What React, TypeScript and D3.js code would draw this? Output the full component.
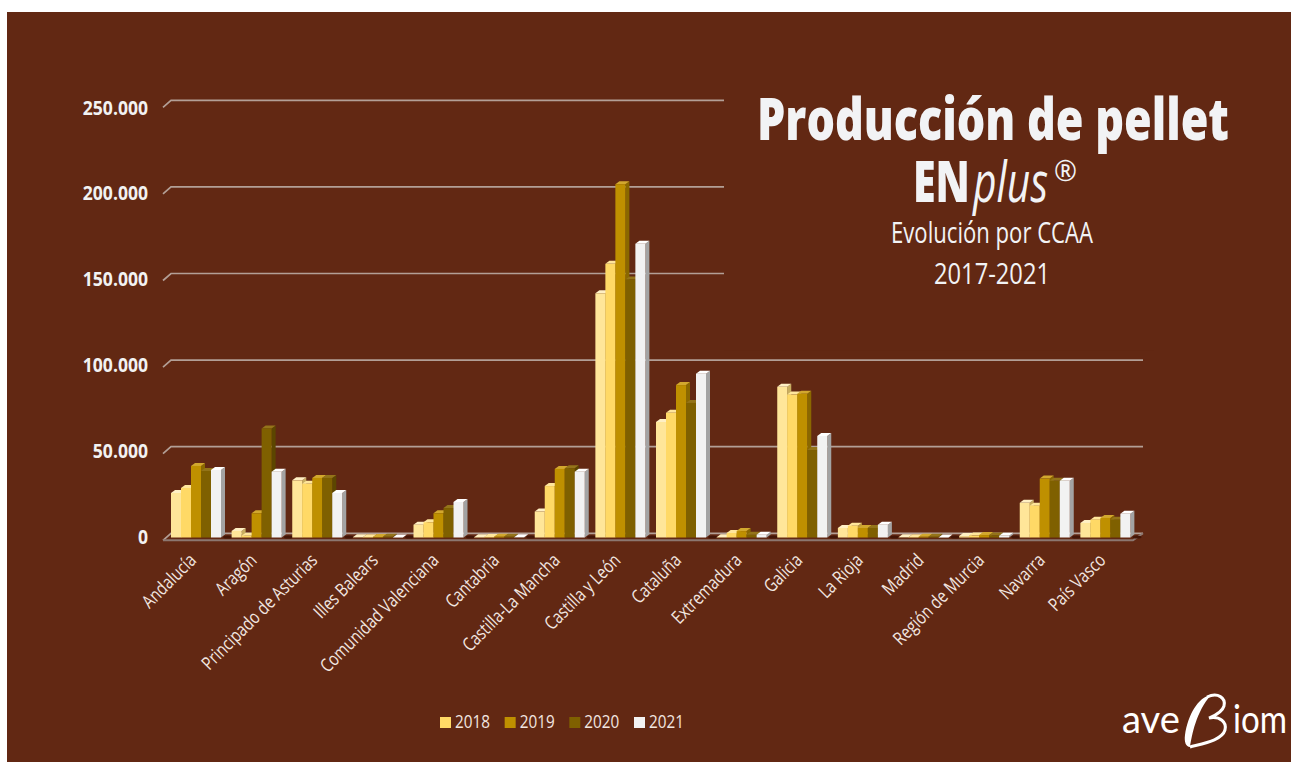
import React, { useLayoutEffect, useRef } from "react";
import * as d3 from "d3";

const categories = ["Andalucía","Aragón","Principado de Asturias","Illes Balears","Comunidad Valenciana","Cantabria","Castilla-La Mancha","Castilla y León","Cataluña","Extremadura","Galicia","La Rioja","Madrid","Región de Murcia","Navarra","País Vasco"];
const years = ["2017","2018","2019","2020","2021"];
const legendYears = ["2018","2019","2020","2021"];
const values2017 = [25700,3800,33000,100,7400,200,15000,141000,66700,200,87000,5500,100,800,20000,8400];
const values2018 = [28600,1000,31000,200,8800,300,29700,158000,72000,2600,82500,6800,200,1100,18400,10300];
const values2019 = [41300,14000,34400,300,14000,500,39600,204000,88000,3700,83000,5500,400,1400,34000,11300];
const values2020 = [38400,63000,34400,400,17000,500,40000,149000,77700,1600,50500,5500,500,1100,32700,10300];
const values2021 = [39000,38000,25700,50,20500,100,38000,169600,94600,1600,58600,7400,50,1000,32700,13700];
const seriesValues = [values2017,values2018,values2019,values2020,values2021];
const yTicks = [0,50000,100000,150000,200000,250000];
const fronts = ["#ffe699","#ffd966","#bf9000","#7f6000","#f2f2f2"];
const sides = ["#c9ae60","#bd9b3c","#8a6800","#5c4600","#a3a3a3"];
const tops = ["#fff0c4","#ffe69c","#d2a82e","#94741a","#ffffff"];

const W = 1291, H = 762;
const sans = "'Open Sans', 'Noto Sans', sans-serif";
const depthX = 4, depthY = 3;
const floorDX = 4, backDY = 4.2, frontDY = 2.8;

type FitProps = { x: number; y: number; width: number; center?: boolean; children: React.ReactNode } & Record<string, unknown>;

function FitText({ x, y, width, center, children, ...rest }: FitProps) {
  const ref = useRef<SVGTextElement>(null);
  useLayoutEffect(() => {
    const n = ref.current;
    if (!n) return;
    const w = n.getComputedTextLength();
    n.setAttribute("transform", `translate(${x},${y}) scale(${width / w},1)`);
  }, [x, y, width]);
  return (
    <text ref={ref} textAnchor={center ? "middle" : "start"} transform={`translate(${x},${y})`} {...rest}>
      {children}
    </text>
  );
}

export default function App() {
  const y = d3.scaleLinear().domain([0, 250000]).range([537.5, 104.5]);
  const labelY = d3.scaleLinear().domain([0, 250000]).range([543.5, 114.5]);
  const x = d3.scaleBand().domain(categories).range([167, 1137]);
  const inner = d3.scaleBand().domain(years).range([4, 54]);
  const lx = d3.scaleLinear().domain([0, 3]).range([440, 634]);
  const back = (v: number) => y(v) - backDY;
  const front = (v: number) => y(v) + frontDY;
  const xl = x.range()[0], xr = x.range()[1];
  const fmt = (v: number) => d3.format(",")(v).replace(/,/g, ".");
  const grid = "#b39f96";

  return (
    <svg width={W} height={H} style={{ position: "absolute", left: 0, top: 0, display: "block" }} fontFamily={sans}>
      <rect width={W} height={H} fill="#ffffff" />
      <rect x={7} y={12} width={W - 7} height={H - 12} fill="#622813" />

      {yTicks.map((t) => (
        <g key={t}>
          <path
            d={`M${xl - floorDX},${front(t)}L${xl + floorDX},${back(t)}L${xr + floorDX + 2},${back(t)}`}
            fill="none"
            stroke={grid}
            strokeWidth={1.7}
          />
          <text transform={`translate(148,${labelY(t)}) scale(0.9,1)`} textAnchor="end" fontSize={19.5} fontWeight={700} fill="#f2f2f2">
            {fmt(t)}
          </text>
        </g>
      ))}
      <rect x={724} y={90} width={430} height={y(100000) - 14 - 90} fill="#622813" />

      <path
        d={`M${xl - floorDX},${front(0)}L${xr - floorDX},${front(0)}L${xr + floorDX + 2},${back(0)}`}
        fill="none"
        stroke="#8c7770"
        strokeWidth={2}
      />
      {categories.map((c) => (
        <ellipse key={c} cx={(x(c) as number) + x.bandwidth()} cy={y(0) - 0.5} rx={4.5} ry={1.6} fill="#431608" />
      ))}

      {categories.map((c, ci) => (
        <g key={c}>
          {years.map((yr, si) => {
            const v = seriesValues[si][ci];
            const x0 = (x(c) as number) + (inner(yr) as number);
            const x1 = x0 + inner.bandwidth();
            const top = y(v), base = y(0);
            return (
              <g key={yr}>
                <path d={`M${x1},${top}L${x1 + depthX},${top - depthY}L${x1 + depthX},${base - depthY}L${x1},${base}Z`} fill={sides[si]} />
                <path d={`M${x0},${top}L${x0 + depthX},${top - depthY}L${x1 + depthX},${top - depthY}L${x1},${top}Z`} fill={tops[si]} />
                <rect x={x0} y={top} width={inner.bandwidth()} height={base - top} fill={fronts[si]} />
              </g>
            );
          })}
        </g>
      ))}

      {categories.map((c) => {
        const cx = (x(c) as number) + x.bandwidth() / 2;
        return (
          <text key={c} transform={`translate(${cx},${y(0) + 24}) rotate(-45) scale(0.8,1)`} textAnchor="end" fontSize={18.5} fill="#f2e6e0">
            {c}
          </text>
        );
      })}

      {legendYears.map((yr, i) => (
        <g key={yr}>
          <rect x={lx(i)} y={717} width={11} height={11} fill={fronts[years.indexOf(yr)]} />
          <FitText x={lx(i) + 15} y={728} width={35} fontSize={19} fill="#f2e6e0">
            {yr}
          </FitText>
        </g>
      ))}

      <g fill="#f2f3f5">
        <FitText x={993} y={140} width={472} center fontSize={58} fontWeight={800}>
          Producción de pellet
        </FitText>
        <FitText x={913} y={202} width={57} fontSize={56} fontWeight={800}>
          EN
        </FitText>
        <FitText x={973} y={202} width={75} fontSize={56} fontWeight={400} fontStyle="italic">
          plus
        </FitText>
        <FitText x={1054} y={181} width={23} fontSize={30} fontWeight={400}>
          ®
        </FitText>
        <FitText x={992} y={243} width={202} center fontSize={30}>
          Evolución por CCAA
        </FitText>
        <FitText x={992} y={284} width={116} center fontSize={30}>
          2017-2021
        </FitText>
      </g>

      <g fill="#ffffff">
        <FitText x={1122} y={733} width={58} fontSize={38} fontFamily="Lato, sans-serif" fontWeight={400}>
          ave
        </FitText>
        <FitText x={1233} y={733} width={54} fontSize={38} fontFamily="Lato, sans-serif" fontWeight={400}>
          iom
        </FitText>
        <path d="M1211 695C1198 697 1188 715 1185 735C1184 742 1186 747 1190 747C1192 735 1196 712 1211 695Z" />
        <path
          d="M1207 697C1218 692 1226 698 1224 706C1222 713 1214 716 1209 718C1220 716 1227 722 1225 730C1222 740 1205 743 1190 747"
          fill="none"
          stroke="#ffffff"
          strokeWidth={3}
        />
      </g>
    </svg>
  );
}
